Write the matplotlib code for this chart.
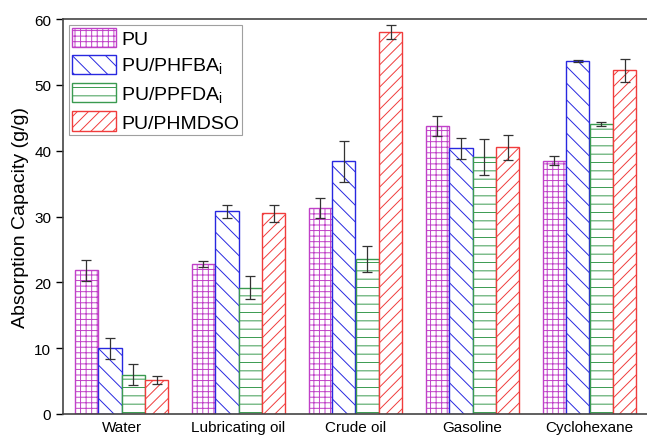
import numpy as np
import matplotlib
matplotlib.use('Agg')
import matplotlib.pyplot as plt

plt.rcParams['font.family'] = ['Liberation Sans', 'DejaVu Sans']
plt.rcParams['hatch.linewidth'] = 0.7

# data
categories = ['Water', 'Lubricating oil', 'Crude oil', 'Gasoline', 'Cyclohexane']
series = ['PU', 'PU/PHFBA$_\\mathregular{i}$', 'PU/PPFDA$_\\mathregular{i}$', 'PU/PHMDSO']
pu = [21.8, 22.8, 31.3, 43.8, 38.5]
pu_err = [1.6, 0.5, 1.5, 1.5, 0.7]
phfba = [10.0, 30.8, 38.4, 40.4, 53.6]
phfba_err = [1.6, 1.0, 3.1, 1.6, 0.2]
ppfda = [6.0, 19.2, 23.5, 39.0, 44.0]
ppfda_err = [1.6, 1.8, 2.0, 2.7, 0.3]
phmdso = [5.2, 30.5, 58.0, 40.5, 52.2]
phmdso_err = [0.6, 1.3, 1.1, 1.9, 1.7]

colors = ['#c040c8', '#2828e0', '#3a9a50', '#f03c3c']
hatches = ['+++', '\\\\', '--', '///']

fig = plt.figure(figsize=(6.47, 4.39), dpi=100)
ax = fig.add_axes([63/647, 24/439, 585/647, 395/439])

x = np.arange(len(categories))
w = 0.2
vals = [pu, phfba, ppfda, phmdso]
errs = [pu_err, phfba_err, ppfda_err, phmdso_err]
for i in range(4):
    ax.bar(x + (i - 1.5) * w, vals[i], w, facecolor='white', edgecolor=colors[i],
           hatch=hatches[i], linewidth=1.0, label=series[i],
           yerr=errs[i], error_kw=dict(ecolor='#333333', elinewidth=0.9, capsize=3.5, capthick=0.9))

ax.set_xlim(-0.5, 4.5)
ax.set_ylim(0, 60)
ax.set_yticks(range(0, 61, 10))
ax.set_xticks(x)
ax.set_xticklabels(categories)
ax.tick_params(axis='x', length=0, labelsize=11, pad=4)
ax.tick_params(axis='y', direction='out', length=5, labelsize=11, width=1)
ax.set_ylabel('Absorption Capacity (g/g)', fontsize=14, labelpad=4)
for s in ['left', 'bottom', 'top']:
    ax.spines[s].set_color('#444444')
    ax.spines[s].set_linewidth(1.2)
ax.spines['right'].set_visible(False)

leg = ax.legend(loc='upper left', fontsize=14, handlelength=2.3, handleheight=1.15,
                labelspacing=0.35, handletextpad=0.25, borderpad=0.15, borderaxespad=0.3,
                fancybox=False, edgecolor='#888888')
leg.get_frame().set_linewidth(0.8)

fig.savefig('out.png', dpi=100)
